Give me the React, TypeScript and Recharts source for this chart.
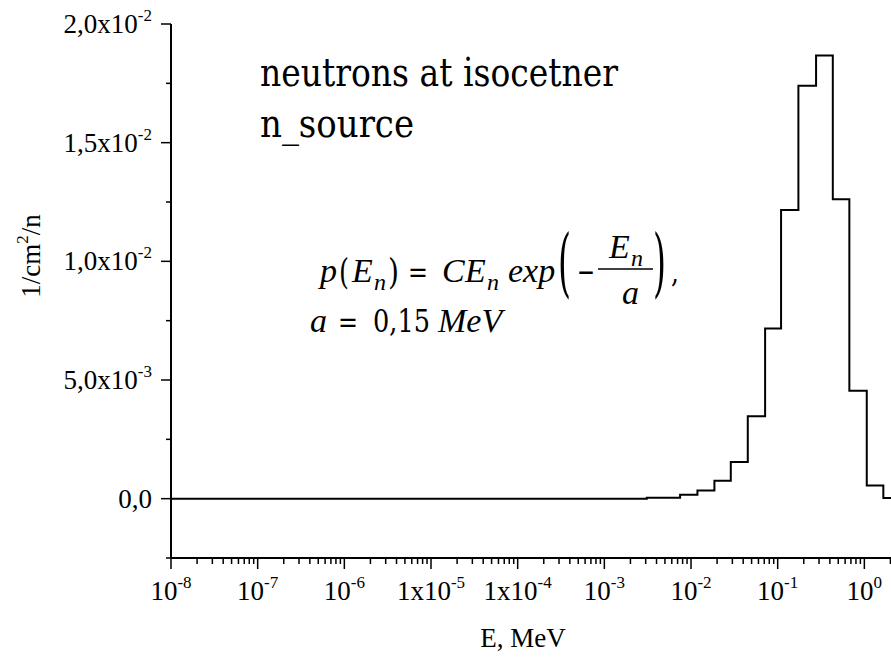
import React from 'react';
import { LineChart, Line, XAxis, YAxis } from 'recharts';

// bin left edges (MeV) and flux per bin
const binEdges = [1e-8, 0.00309, 0.00748, 0.01186, 0.01862, 0.02877, 0.04518, 0.07161, 0.1094, 0.1734, 0.2773, 0.4325, 0.6714, 1.066, 1.656, 2.58];
const binValues = [0, 0.00004, 0.00016, 0.00034, 0.00076, 0.00155, 0.00347, 0.00717, 0.01216, 0.0174, 0.01867, 0.01262, 0.00455, 0.00056, 0.00003, 0.00003];

const xMajor = [1e-8, 1e-7, 1e-6, 1e-5, 1e-4, 1e-3, 1e-2, 1e-1, 1];
const xMantissa = ['', '', '', '1x', '1x', '', '', '', ''];
const xExponent = ['-8', '-7', '-6', '-5', '-4', '-3', '-2', '-1', '0'];

const yMajor = [0, 0.005, 0.01, 0.015, 0.02];
const yBase = ['0,0', '5,0x10', '1,0x10', '1,5x10', '2,0x10'];
const yExponent = ['', '-3', '-2', '-2', '-2'];
const yMinor = [-0.0025, 0.0025, 0.0075, 0.0125, 0.0175];

const xMinor: number[] = [];
for (let k = -8; k <= 0; k++) {
  for (let m = 2; m <= 9; m++) xMinor.push(m * Math.pow(10, k));
}

const data = binEdges.map((e, i) => ({ e, v: binValues[i] }));
const FONT = "'Liberation Serif', 'Times New Roman', serif";
// big upright text falls back to sans with Liberation Serif here, so use DejaVu Serif squeezed to width
const BIG = "'DejaVu Serif', serif";

const XTick = (props: any) => {
  const { x, y, payload } = props;
  const i = xMajor.findIndex((v) => Math.abs(Math.log10(v) - Math.log10(payload.value)) < 1e-6);
  const major = i >= 0;
  return (
    <g>
      <line x1={x} x2={x} y1={y} y2={y + (major ? 11 : 6)} stroke="#000" strokeWidth={1.5} />
      {major && (
        <text x={x} y={y + 42} textAnchor="middle" fontFamily={FONT} fontSize={27} fill="#000">
          {xMantissa[i]}10
          <tspan dy={-12} fontSize={17}>{xExponent[i]}</tspan>
        </text>
      )}
    </g>
  );
};

const YTick = (props: any) => {
  const { x, y, payload } = props;
  const i = yMajor.findIndex((v) => Math.abs(v - payload.value) < 1e-9);
  const major = i >= 0;
  return (
    <g>
      <line x1={x - (major ? 10 : 5)} x2={x} y1={y} y2={y} stroke="#000" strokeWidth={1.5} />
      {major && (
        <text x={x - 19} y={y + 9} textAnchor="end" fontFamily={FONT} fontSize={27} fill="#000">
          {yBase[i]}
          {yExponent[i] && <tspan dy={-12} fontSize={17}>{yExponent[i]}</tspan>}
        </text>
      )}
    </g>
  );
};

// italic formula glyph (Liberation Serif italic renders fine)
const I = ({ x, y, size, children }: any) => (
  <text x={x} y={y} fontSize={size} fontStyle="italic" fontFamily={FONT} fill="#000">
    {children}
  </text>
);

// upright big glyph, squeezed to the Times width
const U = ({ x, y, size, w, sy, children }: any) => (
  <text
    transform={`translate(${x},${y}) scale(1,${sy || 1})`}
    fontSize={size}
    fontFamily={BIG}
    textLength={w}
    lengthAdjust="spacingAndGlyphs"
    fill="#000"
  >
    {children}
  </text>
);

const B = 282;

export default function App() {
  return (
    <div style={{ position: 'absolute', left: 0, top: 0, width: 891, height: 658, background: '#fff' }}>
      <LineChart width={891} height={658} data={data} margin={{ top: 24, right: 0, bottom: 0, left: 0 }}>
        <XAxis
          dataKey="e"
          type="number"
          scale="log"
          domain={[1e-8, 2.03]}
          allowDataOverflow
          ticks={[...xMajor, ...xMinor]}
          interval={0}
          height={100}
          tickSize={0}
          tickMargin={0}
          tickLine={false}
          tick={<XTick />}
          axisLine={{ stroke: '#000', strokeWidth: 2 }}
        />
        <YAxis
          type="number"
          domain={[-0.0025, 0.02]}
          allowDataOverflow
          ticks={[...yMajor, ...yMinor]}
          interval={0}
          width={171}
          tickSize={0}
          tickMargin={0}
          tickLine={false}
          tick={<YTick />}
          axisLine={{ stroke: '#000', strokeWidth: 2 }}
        />
        <Line
          type="stepAfter"
          dataKey="v"
          stroke="#000"
          strokeWidth={2}
          dot={false}
          isAnimationActive={false}
        />
      </LineChart>
      <svg
        width={891}
        height={658}
        style={{ position: 'absolute', left: 0, top: 0, pointerEvents: 'none' }}
      >
        <U x={260} y={86} size={40} w={358}>neutrons at isocetner</U>
        <U x={260} y={137} size={40} w={154}>n_source</U>

        <text x={523} y={647} fontSize={27} textAnchor="middle" fontFamily={FONT} fill="#000">E, MeV</text>
        <text transform="translate(40,256) rotate(-90)" fontSize={27} textAnchor="middle" fontFamily={FONT} fill="#000">
          1/cm<tspan dy={-12} fontSize={17}>2</tspan><tspan dy={12}>/n</tspan>
        </text>

        <I x={320} y={B} size={34}>p</I>
        <U x={339} y={B + 2} size={36} w={10}>(</U>
        <I x={352} y={B} size={34}>E</I>
        <I x={374} y={B + 8} size={24}>n</I>
        <U x={388} y={B + 2} size={36} w={11}>)</U>
        <U x={408} y={B} size={30} w={20}>=</U>
        <I x={442} y={B} size={34}>C</I>
        <I x={465} y={B} size={34}>E</I>
        <I x={487} y={B + 8} size={24}>n</I>
        <I x={508} y={B} size={34}>exp</I>
        <U x={558} y={B + 6} size={40} sy={1.85} w={13}>(</U>
        <U x={577} y={B} size={30} w={18}>{'\u2212'}</U>
        <I x={609} y={B - 24} size={34}>E</I>
        <I x={631} y={B - 16} size={24}>n</I>
        <line x1={598} x2={653} y1={B - 13} y2={B - 13} stroke="#000" strokeWidth={1.5} />
        <I x={622} y={B + 22} size={34}>a</I>
        <U x={653} y={B + 6} size={40} sy={1.85} w={13}>)</U>
        <U x={671} y={B} size={30} w={8}>,</U>

        <I x={310} y={332} size={34}>a</I>
        <U x={338} y={332} size={30} w={20}>=</U>
        <U x={373} y={332} size={32} w={57}>0,15</U>
        <I x={438} y={332} size={34}>MeV</I>
      </svg>
    </div>
  );
}
